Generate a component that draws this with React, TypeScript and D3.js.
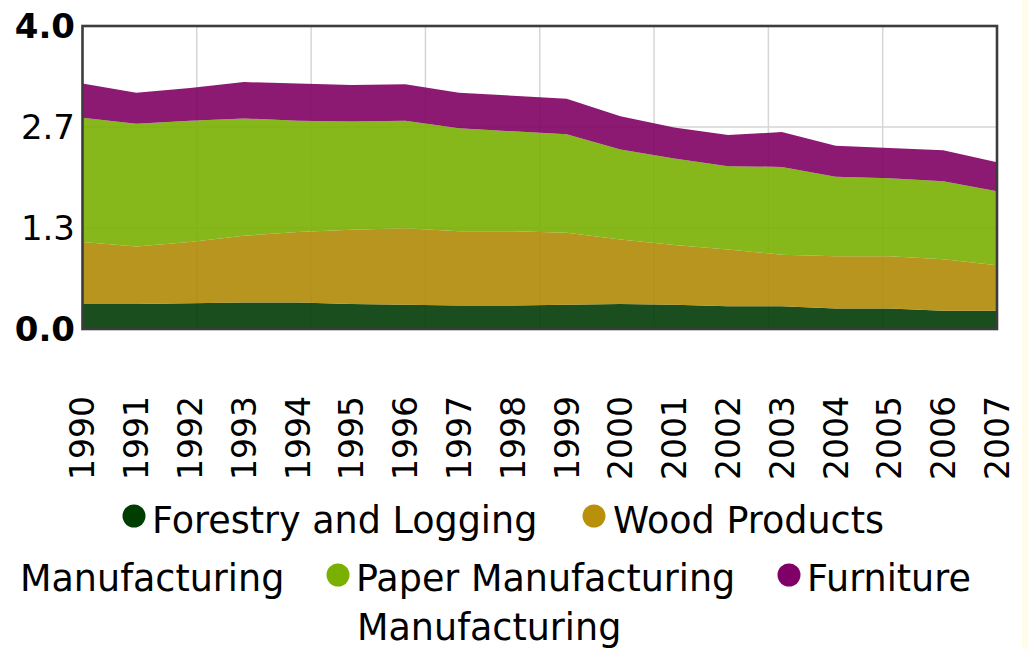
import * as d3 from 'd3';

// years on the x axis
const years = ['1990', '1991', '1992', '1993', '1994', '1995', '1996', '1997', '1998',
	'1999', '2000', '2001', '2002', '2003', '2004', '2005', '2006', '2007'];

// series values
const forestry = [0.33, 0.33, 0.34, 0.35, 0.35, 0.33, 0.32, 0.31, 0.31, 0.32, 0.33, 0.32, 0.30, 0.30, 0.27, 0.27, 0.24, 0.24];
const wood = [0.82, 0.76, 0.81, 0.88, 0.93, 0.98, 1.01, 0.98, 0.98, 0.95, 0.85, 0.79, 0.75, 0.68, 0.69, 0.69, 0.68, 0.60];
const paper = [1.64, 1.62, 1.60, 1.55, 1.47, 1.43, 1.42, 1.36, 1.32, 1.30, 1.19, 1.14, 1.10, 1.16, 1.05, 1.03, 1.03, 0.98];
const furniture = [0.45, 0.41, 0.43, 0.48, 0.49, 0.48, 0.48, 0.47, 0.47, 0.47, 0.44, 0.41, 0.41, 0.46, 0.41, 0.40, 0.41, 0.38];

const seriesNames = ['Forestry and Logging', 'Wood Products Manufacturing', 'Paper Manufacturing', 'Furniture Manufacturing'];
const yTicks = [0, 4 / 3, 8 / 3, 4];
const yTickLabels = ['0.0', '1.3', '2.7', '4.0'];

const colors = ['#023b06', '#b08a05', '#79b003', '#7f0063'];
const legendColors = ['#003d00', '#b8900a', '#7ab000', '#800068'];

const width = 1028;
const height = 649;
const margin = {top: 26, right: 31, bottom: 320, left: 82.5};
const font = '"DejaVu Sans", Verdana, sans-serif';

const rows = years.map((y, i) => ({
	year: y,
	s0: forestry[i],
	s1: wood[i],
	s2: paper[i],
	s3: furniture[i],
}));

// legend layout: flowed text as in the original, one entry per piece
const legendPieces = [
	{c: 0, cx: 134, cy: 516, x: 152, y: 533, text: 'Forestry and Logging'},
	{c: 1, cx: 594, cy: 516, x: 613, y: 533, text: 'Wood Products'},
	{c: -1, cx: 0, cy: 0, x: 20, y: 591, text: 'Manufacturing'},
	{c: 2, cx: 338, cy: 575, x: 356, y: 591, text: 'Paper Manufacturing'},
	{c: 3, cx: 789, cy: 575, x: 807, y: 591, text: 'Furniture'},
	{c: -1, cx: 0, cy: 0, x: 357, y: 640, text: 'Manufacturing'},
];

export default function App() {
	const x = d3.scalePoint()
		.domain(years)
		.range([margin.left, width - margin.right]);

	const y = d3.scaleLinear()
		.domain([0, 4])
		.range([height - margin.bottom, margin.top]);

	const stack = d3.stack().keys(['s0', 's1', 's2', 's3']);
	// @ts-ignore
	const layers = stack(rows);

	const area = d3.area()
		// @ts-ignore
		.x(d => x(d.data.year))
		// @ts-ignore
		.y0(d => y(d[0]))
		// @ts-ignore
		.y1(d => y(d[1]));

	const x0 = margin.left;
	const x1 = width - margin.right;
	const vGrid = d3.range(1, 8).map(i => x0 + (x1 - x0) * i / 8);

	return (
		<svg width={width} height={height} style={{position: 'absolute', left: 0, top: 0, background: '#fff'}}>
			<rect x={1022} y={0} width={6} height={height} fill="#fffdea" />
			{/* grid */}
			<g stroke="#d6d6d6" strokeWidth={1.5}>
				{vGrid.map((gx, i) => (
					<line key={'v' + i} x1={gx} x2={gx} y1={y(4)} y2={y(0)} />
				))}
				{yTicks.slice(1, 3).map((t, i) => (
					<line key={'h' + i} x1={x0} x2={x1} y1={y(t)} y2={y(t)} />
				))}
			</g>
			{/* areas */}
			<g>
				{layers.map((l, i) => (
					// @ts-ignore
					<path key={i} d={area(l)} fill={colors[i]} fillOpacity={0.9} />
				))}
			</g>
			<rect x={x0} y={y(4)} width={x1 - x0} height={y(0) - y(4)} fill="none" stroke="#3c3c3c" strokeWidth={2.6} />
			{/* y axis labels */}
			<g fontFamily={font} fontSize={34} textAnchor="end" fill="#000">
				{yTicks.map((t, i) => (
					<text key={i} x={75} y={y(t)} dy="0.36em" fontWeight={i === 0 || i === 3 ? 'bold' : 'normal'}>
						{yTickLabels[i]}
					</text>
				))}
			</g>
			{/* x axis labels */}
			<g fontFamily={font} fontSize={33} textAnchor="end" fill="#000">
				{years.map(yr => (
					<text key={yr} transform={`translate(${x(yr)},396) rotate(-90)`} dy="0.36em">{yr}</text>
				))}
			</g>
			{/* legend */}
			<g fontFamily={font} fontSize={36.5} fill="#000">
				{legendPieces.map((p, i) => (
					<g key={i}>
						{p.c >= 0 && <circle cx={p.cx} cy={p.cy} r={11.5} fill={legendColors[p.c]} />}
						<text x={p.x} y={p.y}>{p.text}</text>
					</g>
				))}
			</g>
		</svg>
	);
}
